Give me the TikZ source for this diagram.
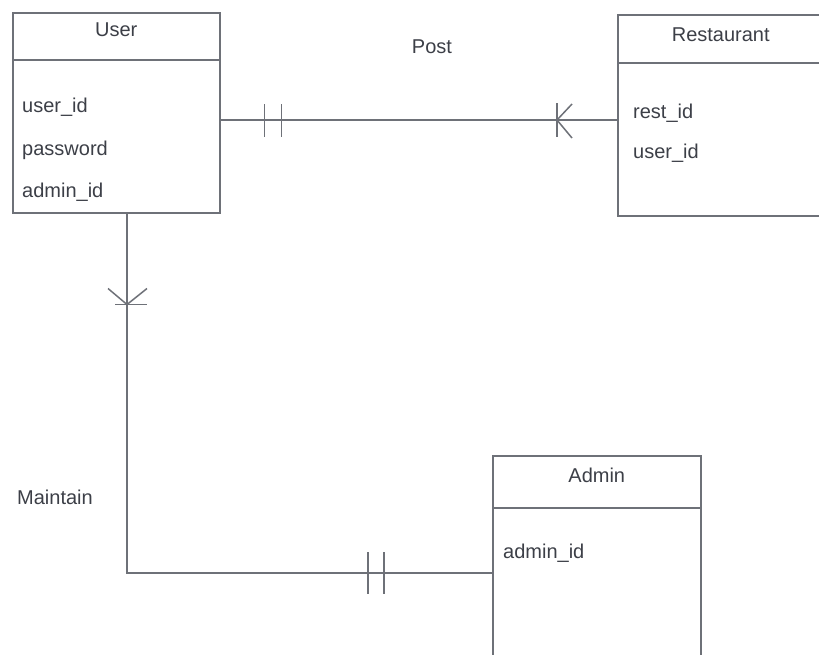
\documentclass[tikz,border=0pt]{standalone}
\usepackage{fontspec}
\setmainfont{Liberation Sans}
\usetikzlibrary{positioning,calc}
\definecolor{linegray}{HTML}{6E7178}
\definecolor{textgray}{HTML}{3C3F47}

\begin{document}
\begin{tikzpicture}[
    x=1pt, y=-1pt,
    every node/.style={font=\fontsize{20}{24}\selectfont, text=textgray},
    entity/.style={rectangle, draw=linegray, line width=1.5pt, inner sep=0pt,
                   anchor=north west},
    divider/.style={draw=linegray, line width=1.5pt},
    attr/.style={anchor=west, inner sep=0pt},
    rel/.style={draw=linegray, line width=1.5pt},
    barline/.style={draw=linegray, line width=1.7pt},
]
\useasboundingbox (0,0) rectangle (819,654);
\clip (0,0) rectangle (819,654);

% Entities
\node[entity, minimum width=207pt, minimum height=200pt] (user) at (12,12) {};
\node[entity, minimum width=206pt, minimum height=201pt] (rest) at (617,14) {};
\node[entity, minimum width=208pt, minimum height=240pt] (admin) at (492,455) {};

% Headers
\draw[divider] ($(user.north west)+(0,48)$) -- ($(user.north east)+(0,48)$);
\draw[divider] ($(rest.north west)+(0,49)$) -- ($(rest.north east)+(0,49)$);
\draw[divider] ($(admin.north west)+(0,53)$) -- ($(admin.north east)+(0,53)$);

\node (usertitle) at ($(user.north)+(0,18)$) {User};
\node (resttitle) at ($(rest.north)+(0,21)$) {Restaurant};
\node (admintitle) at ($(admin.north)+(0,20)$) {Admin};

% Attributes
\node[attr] (uid) at ($(user.north west)+(10,95)$) {user\_id};
\node[attr] (upw) at ($(uid.west)+(0,43)$) {password};
\node[attr] (uaid) at ($(upw.west)+(0,42)$) {admin\_id};

\node[attr] (rid) at ($(rest.north west)+(16,99)$) {rest\_id};
\node[attr] (ruid) at ($(rid.west)+(0,40)$) {user\_id};

\node[attr] (aid) at ($(admin.north west)+(11,98)$) {admin\_id};

% Post: User -- Restaurant
\coordinate (postU) at ($(user.north east)+(0,108)$);
\coordinate (postR) at (postU -| rest.west);
\draw[rel] (postU) -- (postR);
\draw[barline] ($(postU)+(44,-16)$) -- ++(0,33);
\draw[barline] ($(postU)+(61,-16)$) -- ++(0,33);
\draw[barline] ($(postR)+(-60,-17)$) -- ++(0,34);
\draw[rel] ($(postR)+(-45,-16)$) -- ($(postR)+(-60,0)$) -- ($(postR)+(-45,18)$);
\node (post) at (432,47) {Post};

% Maintain: User -- Admin
\coordinate (mntU) at ($(user.south west)+(115,0)$);
\coordinate (mntA) at ($(admin.north west)+(0,118)$);
\draw[rel] (mntU) |- (mntA);
\draw[barline] ($(mntU)+(-12,91)$) -- ++(32,0);
\draw[rel] ($(mntU)+(-19,75)$) -- ($(mntU)+(0,91)$) -- ($(mntU)+(20,75)$);
\draw[barline] ($(mntA)+(-124,-21)$) -- ++(0,42);
\draw[barline] ($(mntA)+(-108,-21)$) -- ++(0,42);
\node (maintain) at (55,497) {Maintain};

\end{tikzpicture}
\end{document}
